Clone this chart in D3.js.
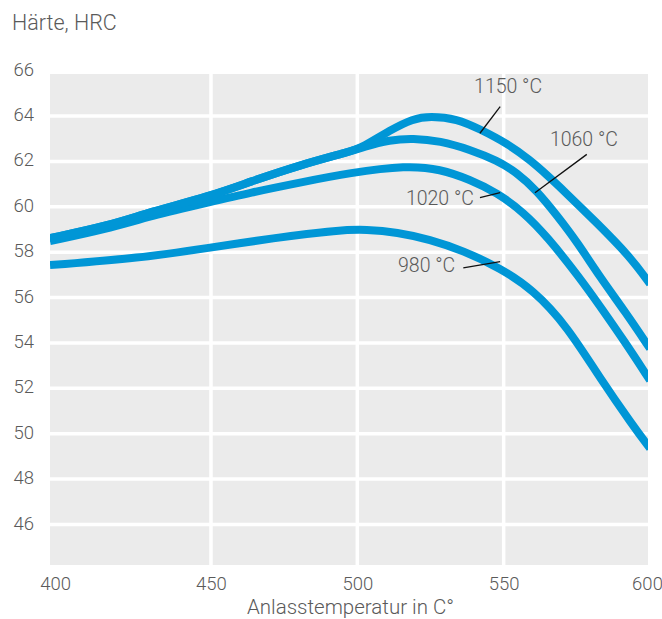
<!DOCTYPE html>
<html>
<head>
<meta charset="utf-8">
<script src="https://cdn.jsdelivr.net/npm/d3@7"></script>
<style>
  html, body { margin: 0; padding: 0; background: #fff; }
  svg text { font-family: Roboto, "Liberation Sans", sans-serif; font-weight: 300; fill: #5a5a5a; }
</style>
</head>
<body>
<svg id="chart" width="662" height="619"></svg>
<script>
// ---- data (tempering temperature °C, hardness HRC) ----
const xTicks = [400, 450, 500, 550, 600];
const yTicks = [46, 48, 50, 52, 54, 56, 58, 60, 62, 64, 66];
const yTitle = "Härte, HRC";
const xTitle = "Anlasstemperatur in C°";

const curve980 = [[395,57.43],[425.8,57.74],[448.6,58.18],[471.2,58.62],[494.1,58.98],[503,59.0],[513.6,58.88],[524.8,58.56],[536.1,58.07],[548.8,57.30],[560.0,56.35],[571.6,54.75],[582.9,52.45],[594.2,50.35],[600,49.35]];
const curve1020 = [[395,58.49],[414.5,59.02],[429.2,59.59],[449.7,60.21],[463.3,60.62],[480.4,61.07],[497.5,61.50],[517.0,61.82],[528.3,61.66],[538.5,61.20],[547.7,60.62],[556.6,59.78],[564.8,58.70],[576.1,56.85],[582.9,55.62],[591.5,54.03],[600,52.35]];
const curve1060 = [[395,58.62],[414.5,59.15],[429.2,59.77],[449.7,60.47],[463.3,61.10],[480.4,61.84],[497.5,62.43],[501.9,62.63],[511.2,62.95],[519.0,63.02],[528.3,62.90],[538.5,62.52],[547.7,62.04],[554.6,61.50],[561.4,60.70],[568.2,59.62],[575.1,58.45],[582.9,56.90],[591.5,55.38],[600,53.75]];
const curve1150 = [[395,58.62],[414.5,59.15],[429.2,59.77],[449.7,60.47],[463.3,61.10],[480.4,61.84],[497.5,62.43],[501.9,62.63],[511.2,63.38],[519.0,63.88],[524.8,64.0],[534.1,63.88],[541.9,63.42],[551.1,62.80],[559.0,62.06],[564.8,61.40],[570.3,60.74],[581.9,59.28],[593.2,57.80],[600,56.60]];

const seriesNames = ["980 °C", "1020 °C", "1060 °C", "1150 °C"];
const seriesData = [curve980, curve1020, curve1060, curve1150];
// label anchor (text start) and leader line (from -> to), in data units
const labelAt = [[513.9,57.13],[516.6,60.08],[565.8,62.68],[539.9,65.01]];
const leaderFrom = [[536.2,57.31],[541.9,60.40],[578.4,62.31],[548.8,64.41]];
const leaderTo = [[548.8,57.58],[548.8,60.62],[560.7,60.62],[541.9,63.24]];

// ---- layout ----
const svg = d3.select("#chart");
const plot = { left: 50, right: 648, top: 74, bottom: 565 };
const x = d3.scaleLinear().domain([395, 600]).range([50, 650]);
const y = d3.scaleLinear().domain([46, 64]).range([524.5, 116]);

svg.append("defs").append("clipPath").attr("id", "clip")
  .append("rect").attr("x", plot.left).attr("y", plot.top)
  .attr("width", plot.right - plot.left).attr("height", plot.bottom - plot.top);

svg.append("rect")
  .attr("x", plot.left).attr("y", plot.top)
  .attr("width", plot.right - plot.left).attr("height", plot.bottom - plot.top)
  .attr("fill", "#ebebeb");

// grid
const grid = svg.append("g").attr("clip-path", "url(#clip)");
grid.selectAll(".hg").data(yTicks.filter(v => v < 66)).enter().append("line")
  .attr("x1", plot.left).attr("x2", plot.right)
  .attr("y1", d => y(d)).attr("y2", d => y(d))
  .attr("stroke", "#fff").attr("stroke-width", 3.5);
grid.selectAll(".vg").data(xTicks.filter(v => v > 400 && v < 600)).enter().append("line")
  .attr("y1", plot.top).attr("y2", plot.bottom)
  .attr("x1", d => x(d)).attr("x2", d => x(d))
  .attr("stroke", "#fff").attr("stroke-width", 3.5);

// axes (text only)
const yAxis = d3.axisLeft(y).tickValues(yTicks).tickSize(0).tickPadding(0);
const gy = svg.append("g").attr("transform", "translate(34,0)").call(yAxis);
gy.select(".domain").remove();
gy.selectAll("text").attr("font-size", 18.5).attr("dy", null).attr("dominant-baseline", null)
  .attr("y", 4.5).attr("text-anchor", "end")
  .style("font-family", "Roboto, 'Liberation Sans', sans-serif").style("font-weight", 300).attr("fill", "#5a5a5a");

const xAxis = d3.axisBottom(x).tickValues(xTicks).tickSize(0).tickPadding(0);
const gx = svg.append("g").attr("transform", "translate(0,590)").call(xAxis);
gx.select(".domain").remove();
gx.selectAll("text").attr("font-size", 18.5).attr("y", 0).attr("dy", null)
  .attr("dx", d => d === 400 ? -9.5 : (d === 600 ? -3 : 0))
  .style("font-family", "Roboto, 'Liberation Sans', sans-serif").style("font-weight", 300).attr("fill", "#5a5a5a");

// titles
svg.append("text").attr("x", 12).attr("y", 30).attr("font-size", 21.5).text(yTitle);
svg.append("text").attr("x", 350.5).attr("y", 614).attr("text-anchor", "middle").attr("font-size", 20.5).text(xTitle);

// curves
const line = d3.line().x(d => x(d[0])).y(d => y(d[1])).curve(d3.curveBasis);
svg.append("g").attr("clip-path", "url(#clip)")
  .selectAll("path").data(seriesData).enter().append("path")
  .attr("d", line)
  .attr("fill", "none")
  .attr("stroke", "#0096d6")
  .attr("stroke-width", 8)
  .attr("stroke-linecap", "butt")
  .attr("stroke-linejoin", "round");

// labels + leaders
const ann = svg.append("g");
seriesNames.forEach((name, i) => {
  ann.append("line")
    .attr("x1", x(leaderFrom[i][0])).attr("y1", y(leaderFrom[i][1]))
    .attr("x2", x(leaderTo[i][0])).attr("y2", y(leaderTo[i][1]))
    .attr("stroke", "#111").attr("stroke-width", 1.3);
  ann.append("text")
    .attr("x", x(labelAt[i][0])).attr("y", y(labelAt[i][1]))
    .attr("font-size", 19.5).text(name);
});
</script>
</body>
</html>
